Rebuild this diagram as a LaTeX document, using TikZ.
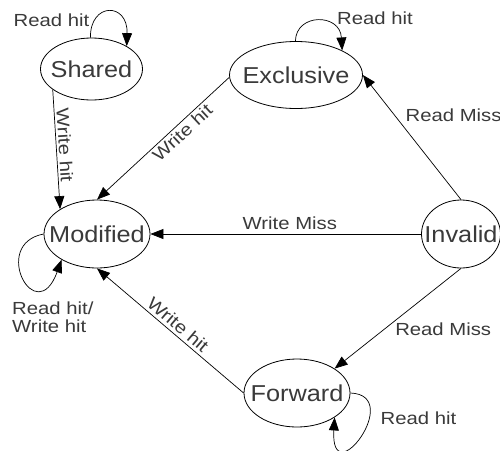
\documentclass[tikz,border=0pt]{standalone}
\usepackage{fontspec}
\setmainfont{Liberation Sans}
\newfontfamily\statefont{Liberation Sans}[FakeStretch=1.1]
\newfontfamily\edgefont{Liberation Sans}[FakeStretch=1.16]
\usetikzlibrary{shapes.geometric,arrows.meta}
\definecolor{ink}{HTML}{3A3A3A}
\begin{document}
\begin{tikzpicture}[x=1pt,y=-1pt,
  state/.style={draw=black, line width=0.8pt, ellipse, inner sep=0pt,
    text=ink, font=\statefont\fontsize{23}{25}\selectfont},
  lbl/.style={text=ink, font=\edgefont\fontsize{17.5}{18}\selectfont, inner sep=2pt},
  trans/.style={draw=black, line width=0.7pt, -{Triangle[length=13pt,width=10pt]}},
]
\useasboundingbox (0,0) rectangle (500,450);

% states
\node[state, minimum width=102pt, minimum height=62pt] (S) at (91.5,69) {\makebox[0pt]{Shared}};
\node[state, minimum width=133pt, minimum height=67pt] (E) at (296,75) {\makebox[0pt]{Exclusive}};
\node[state, minimum width=106pt, minimum height=68pt] (M) at (97,234) {\makebox[0pt]{Modified}};
\node[state, minimum width=79pt, minimum height=68pt] (I) at (461,234) {\makebox[0pt]{Invalid}};
\node[state, minimum width=106pt, minimum height=68pt] (F) at (297,393) {\makebox[0pt]{Forward}};

% transitions between states
\draw[trans] (S.208) -- (M.146) node[lbl, pos=0.47, sloped, above] {Write hit};
\draw[trans] (E.182) -- (M.90) node[lbl, pos=0.4, sloped, below] {Write hit};
\draw[trans] (I.180) -- (M.0) node[lbl, pos=0.485, above=2pt] {Write Miss};
\draw[trans] (I.90) -- (E.0) node[lbl, pos=0.68, right=9pt] {Read Miss};
\draw[trans] (I.270) -- (F.33) node[lbl, pos=0.61, right=9pt] {Read Miss};
\draw[trans] (F.180) -- (M.270) node[lbl, pos=0.49, sloped, above=1pt] {Write hit};

% self loops
\draw[trans] (S.92) .. controls (90,2) and (128,2) .. (S.33);
\draw[trans] (E.91) .. controls (296,13) and (340,13) .. (E.28);
\draw[trans] (M.180) .. controls (-10,244) and (36,330) .. (M.216);
\draw[trans] (F.0) .. controls (405,395) and (330,495) .. (F.-33);

% loop labels
\node[lbl] (ls) at (51.5,20) {Read hit};
\node[lbl] (le) at (375,18) {Read hit};
\node[lbl, inner sep=0pt, anchor=north west, align=left] (lm) at (12,302) {Read hit/\\Write hit};
\node[lbl] (lf) at (418.5,418.5) {Read hit};
\end{tikzpicture}
\end{document}
